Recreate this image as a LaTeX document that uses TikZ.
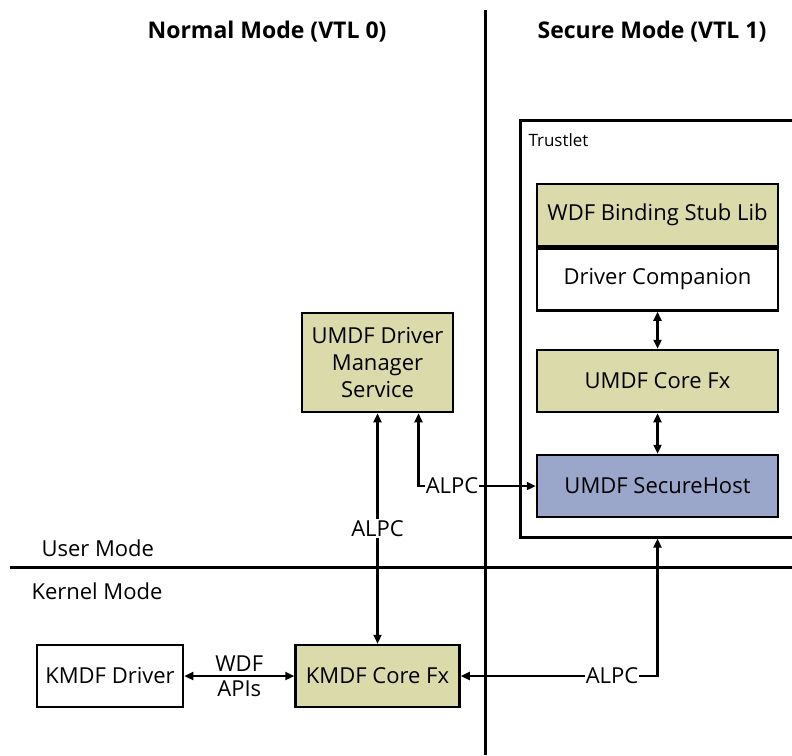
\documentclass[tikz,border=0pt]{standalone}
\usepackage{fontspec}
\setmainfont{Open Sans}
\usetikzlibrary{arrows.meta, positioning}
\definecolor{boxolive}{RGB}{218,218,170}
\definecolor{boxblue}{RGB}{154,166,202}

\begin{document}
\begin{tikzpicture}[x=1pt, y=-1pt, >={Triangle[length=9pt, width=8pt]},
  every node/.style={font=\fontsize{22}{27}\selectfont},
  box/.style={draw, line width=2.5pt, minimum width=241pt, minimum height=62pt, inner sep=0pt, align=center},
  olivebox/.style={box, fill=boxolive},
  link/.style={line width=2.2pt},
  tag/.style={fill=white, inner sep=1pt}]
  \useasboundingbox (0,0) rectangle (792,755);
  \clip (0,0) rectangle (792,755);

  % Mode dividers
  \draw[line width=3pt] (485,10) -- (485,755);
  \draw[line width=3pt] (10,567) -- (792,567);
  \node[font=\fontsize{23}{27}\selectfont\bfseries] (normal) at (267,32) {Normal Mode (VTL 0)};
  \node[font=\fontsize{23}{27}\selectfont\bfseries] (secure) at (652,32) {Secure Mode (VTL 1)};
  \node[anchor=west] (usermode) at (38,548) {User Mode};
  \node[anchor=west] (kernelmode) at (28,591) {Kernel Mode};

  % Trustlet
  \node[draw, line width=2.5pt, anchor=north west, minimum width=300pt, minimum height=417pt] (trustlet) at (519,119) {};
  \node[anchor=west, font=\fontsize{17}{20}\selectfont] (trustletlbl) at (525,140) {Trustlet};
  \node[olivebox] (stub) at (657.5,215) {WDF Binding Stub Lib};
  \node[box, below=0pt of stub] (companion) {Driver Companion};
  \node[olivebox] (umdfcore) at (657.5,381) {UMDF Core Fx};
  \node[box, fill=boxblue] (securehost) at (657.5,486) {UMDF SecureHost};
  \draw[link, <->] (companion) -- (umdfcore);
  \draw[link, <->] (umdfcore) -- (securehost);

  % User mode service
  \node[olivebox, minimum width=151pt, minimum height=99pt] (manager) at (377.5,362.5) {UMDF Driver\\Manager\\Service};
  \node[tag] (alpcmid) at (452,486) {ALPC};
  \draw[link, ->] (alpcmid) -- (securehost);
  \draw[link, ->] (alpcmid.west) -| ([xshift=41pt]manager.south);

  % Kernel mode
  \node[box, fill=white, minimum width=146pt] (kmdfdrv) at (110,676) {KMDF Driver};
  \node[olivebox, minimum width=164pt] (kmdfcore) at (377.5,676) {KMDF Core Fx};
  \draw[link, <->] (manager) -- (kmdfcore) node[tag, midway] (alpcup) {ALPC};
  \draw[link, <->] (kmdfdrv) -- (kmdfcore)
    node[midway, above] (wdf) {WDF} node[midway, below] (apis) {APIs};
  \node[tag] (alpclow) at (612,676) {ALPC};
  \draw[link, ->] (alpclow) -- (kmdfcore);
  \draw[link, ->] (alpclow.east) -| (securehost |- trustlet.south);
\end{tikzpicture}
\end{document}
